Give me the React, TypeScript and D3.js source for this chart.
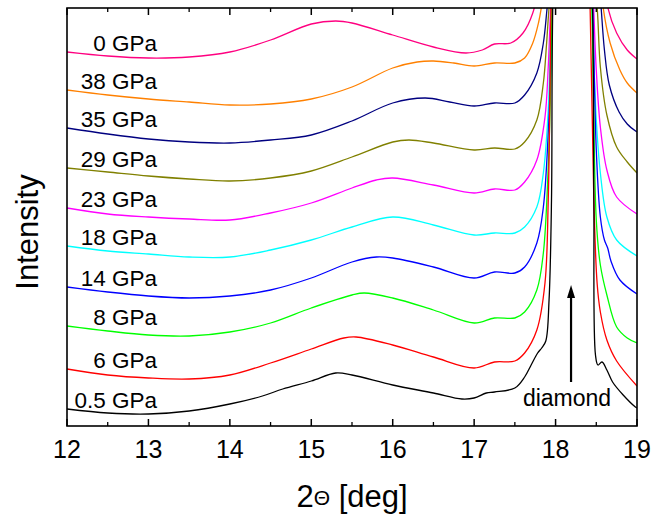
import React from "react";
import * as d3 from "d3";

type Pt = [number, number];

const labels = ["0 GPa", "38 GPa", "35 GPa", "29 GPa", "23 GPa", "18 GPa", "14 GPa", "8 GPa", "6 GPa", "0.5 GPa"];
const colors = ["#FF0080", "#FF8000", "#000080", "#808000", "#FF00FF", "#00FFFF", "#0000FF", "#00FF00", "#FF0000", "#000000"];
const xMajorTicks = [12, 13, 14, 15, 16, 17, 18, 19];
const xMinorTicks = [12.5, 13.5, 14.5, 15.5, 16.5, 17.5, 18.5];

const p0: Pt[] = [[12,374],[12.5,370],[13,368],[13.5,369],[14,374],[14.5,386],[15,402],[15.3,405],[15.5,403],[16,391],[16.5,379],[16.9,373],[17.1,376],[17.25,382],[17.45,383],[17.6,393],[17.72,413],[17.78,436],[18.2,1000],[18.6,446],[18.64,419],[18.75,393],[18.88,376],[19,367]];
const p38: Pt[] = [[12,336],[12.5,331],[13,327],[13.5,324],[14,321],[14.5,322],[15,327],[15.5,339],[16,358],[16.3,364],[16.5,365],[16.75,363],[17,360],[17.25,363],[17.5,363],[17.62,368],[17.72,383],[17.79,403],[17.83,421],[17.86,441],[18.2,1000],[18.56,441],[18.58,421],[18.67,383],[18.79,356],[18.88,343],[19,333]];
const p35: Pt[] = [[12,298],[12.5,292],[13,287],[13.5,284],[14,283],[14.5,286],[15,291],[15.5,305],[16,323],[16.4,328],[16.7,324],[17,320],[17.25,323],[17.5,323],[17.62,331],[17.77,353],[17.85,383],[17.89,413],[17.92,441],[18.2,1000],[18.54,441],[18.56,418],[18.6,376],[18.66,341],[18.78,314],[18.88,302],[19,294]];
const p29: Pt[] = [[12,258],[12.5,254],[13,250],[13.5,247],[14,245],[14.5,248],[15,255],[15.5,269],[16,284],[16.2,286],[16.5,283],[17,276],[17.25,278],[17.5,277],[17.62,284],[17.77,306],[17.85,343],[17.89,383],[17.92,418],[17.95,441],[18.2,1000],[18.5,436],[18.52,406],[18.55,359],[18.63,311],[18.75,279],[18.88,264],[19,253]];
const p23: Pt[] = [[12,218],[12.5,212],[13,209],[13.5,207],[14,206],[14.5,213],[15,223],[15.5,238],[15.8,246],[16,248],[16.5,241],[17,233],[17.25,237],[17.5,236],[17.62,244],[17.77,266],[17.87,309],[17.91,359],[17.94,418],[17.96,441],[18.2,1000],[18.46,436],[18.5,356],[18.55,299],[18.63,256],[18.75,229],[19,212]];
const p18: Pt[] = [[12,180],[12.5,175],[13,172],[13.5,169],[14,169],[14.5,176],[15,186],[15.5,199],[16,209],[16.5,201],[17,191],[17.25,193],[17.5,193],[17.62,199],[17.77,219],[17.85,253],[17.91,316],[17.94,393],[17.96,441],[18.2,1000],[18.44,436],[18.5,306],[18.55,253],[18.63,209],[18.75,186],[19,170]];
const p14: Pt[] = [[12,139],[12.5,134],[13,130],[13.5,128],[14,130],[14.5,136],[15,148],[15.5,164],[15.8,169],[16,168],[16.5,159],[17,148],[17.25,154],[17.5,153],[17.62,159],[17.77,183],[17.85,219],[17.91,293],[17.94,359],[17.96,441],[18.2,1000],[18.45,436],[18.5,276],[18.55,209],[18.6,186],[18.64,178],[18.68,165],[18.79,146],[19,132]];
const p8: Pt[] = [[12,100],[12.5,95],[13,91],[13.5,90],[14,94],[14.5,103],[15,118],[15.5,131],[15.65,133],[16,128],[16.5,116],[17,103],[17.25,108],[17.5,108],[17.62,114],[17.77,136],[17.85,173],[17.91,259],[17.94,343],[17.96,441],[18.2,1000],[18.44,436],[18.5,206],[18.55,161],[18.63,131],[18.75,99],[18.88,88],[19,83]];
const p6: Pt[] = [[12,57],[12.5,51],[13,48],[13.5,47],[14,51],[14.5,63],[15,77],[15.4,88],[15.55,89],[16,81],[16.5,69],[17,58],[17.25,64],[17.5,65],[17.62,73],[17.77,96],[17.87,143],[17.91,226],[17.93,326],[17.95,441],[18.2,1000],[18.42,436],[18.47,226],[18.51,143],[18.55,114],[18.63,86],[18.75,65],[19,40]];
const p05: Pt[] = [[12,17],[12.5,13],[13,12],[13.5,15],[14,22],[14.4,30],[14.65,37],[15,45],[15.3,53],[15.5,51],[16,41],[16.5,33],[16.85,27],[17,28],[17.15,33],[17.25,34],[17.5,38],[17.62,49],[17.7,61],[17.78,73],[17.83,78],[17.88,85],[17.92,126],[17.95,226],[17.97,441],[18.2,1000],[18.45,436],[18.47,226],[18.49,71],[18.52,61],[18.57,64],[18.63,56],[18.7,44],[18.83,31],[18.98,19],[19,18]];

const series: Pt[][] = [p0, p38, p35, p29, p23, p18, p14, p8, p6, p05];

const W = 651, H = 517;
const L = 67, R = 637, T = 8, B = 426;
const FONT = "Arial, 'Liberation Sans', Helvetica, sans-serif";

export default function App() {
  const x = d3.scaleLinear().domain([12, 19]).range([L, R]);
  const y = d3.scaleLinear().domain([0, 418]).range([B, T]);
  const line = d3.line<Pt>().x(d => x(d[0])).y(d => y(d[1])).curve(d3.curveCatmullRom.alpha(0.5));

  const arrowX = x(18.19);
  const arrowBottom = y(44);
  const arrowTop = y(141);

  return (
    <svg width={W} height={H} style={{ position: "absolute", left: 0, top: 0, background: "#fff" }} fontFamily={FONT}>
      <defs>
        <clipPath id="plotclip">
          <rect x={L} y={T} width={R - L} height={B - T} />
        </clipPath>
      </defs>
      <rect x={0} y={0} width={W} height={H} fill="#fff" />
      <g clipPath="url(#plotclip)">
        {series.map((s, i) => (
          <path key={i} d={line(s) || ""} fill="none" stroke={colors[i]} strokeWidth={1.3} strokeLinejoin="round" />
        ))}
      </g>
      {series.map((s, i) => (
        <text key={"l" + i} x={157} y={y(s[0][1]) - 1} fontSize={22.5} textAnchor="end" fill="#000">{labels[i]}</text>
      ))}
      {/* diamond annotation */}
      <line x1={arrowX} x2={arrowX} y1={arrowBottom} y2={arrowTop + 10} stroke="#000" strokeWidth={2.2} />
      <path d={`M${arrowX},${arrowTop} L${arrowX - 4},${arrowTop + 13} L${arrowX + 4},${arrowTop + 13} Z`} fill="#000" />
      <text x={567} y={406} fontSize={23} textAnchor="middle" fill="#000">diamond</text>
      {/* frame */}
      <rect x={L} y={T} width={R - L} height={B - T} fill="none" stroke="#000" strokeWidth={1.6} />
      {xMajorTicks.map(t => (
        <g key={"M" + t}>
          <line x1={x(t)} x2={x(t)} y1={B} y2={B - 7} stroke="#000" strokeWidth={1.5} />
          <line x1={x(t)} x2={x(t)} y1={T} y2={T + 7} stroke="#000" strokeWidth={1.5} />
          <text x={x(t)} y={458} fontSize={25} textAnchor="middle" fill="#000">{t}</text>
        </g>
      ))}
      {xMinorTicks.map(t => (
        <g key={"m" + t}>
          <line x1={x(t)} x2={x(t)} y1={B} y2={B - 4} stroke="#000" strokeWidth={1.3} />
          <line x1={x(t)} x2={x(t)} y1={T} y2={T + 4} stroke="#000" strokeWidth={1.3} />
        </g>
      ))}
      <text x={(L + R) / 2} y={507} fontSize={31} textAnchor="middle" fill="#000">
        2<tspan fontSize={21} dy={-2}>Θ</tspan><tspan dy={2}> [deg]</tspan>
      </text>
      <text transform={`translate(38,232) rotate(-90)`} fontSize={31} textAnchor="middle" fill="#000">Intensity</text>
    </svg>
  );
}
